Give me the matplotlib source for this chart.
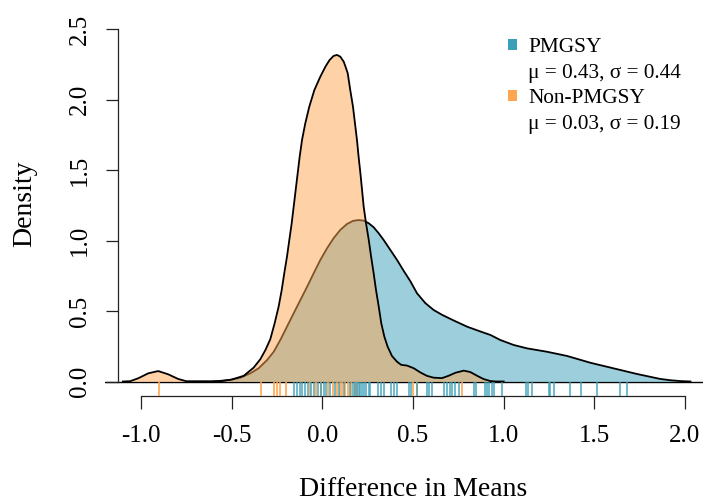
import matplotlib
matplotlib.use("Agg")
import matplotlib.pyplot as plt
from matplotlib.patches import Patch
import matplotlib.transforms as mtransforms

plt.rcParams['font.family'] = ['Liberation Serif', 'DejaVu Serif']

# ---- data ----
pm_x = [-0.60, -0.507, -0.452, -0.397, -0.351, -0.305, -0.268, -0.232, -0.195, -0.158,
        -0.121, -0.084, -0.048, -0.011, 0.026, 0.062, 0.099, 0.136, 0.169, 0.200,
        0.228, 0.256, 0.283, 0.311, 0.338, 0.375, 0.412, 0.448, 0.485, 0.522,
        0.568, 0.614, 0.660, 0.724, 0.798, 0.871, 0.927, 0.982, 1.055, 1.129,
        1.239, 1.350, 1.478, 1.607, 1.736, 1.864, 1.919, 1.975, 2.03]
pm_y = [0.0, 0.011, 0.027, 0.058, 0.094, 0.152, 0.211, 0.294, 0.389, 0.484,
        0.578, 0.672, 0.767, 0.862, 0.945, 1.016, 1.075, 1.117, 1.139, 1.145,
        1.141, 1.122, 1.094, 1.051, 1.004, 0.933, 0.862, 0.786, 0.712, 0.626,
        0.556, 0.507, 0.473, 0.433, 0.389, 0.355, 0.330, 0.294, 0.259, 0.235,
        0.211, 0.181, 0.133, 0.093, 0.053, 0.018, 0.009, 0.003, 0.0]

non_x = [-1.10, -1.06, -1.015, -0.96, -0.905, -0.85, -0.795, -0.75, -0.56, -0.50,
         -0.434, -0.379, -0.342, -0.314, -0.287, -0.263, -0.241, -0.224, -0.210, -0.195,
         -0.182, -0.169, -0.158, -0.147, -0.136, -0.125, -0.112, -0.094, -0.072, -0.044,
         -0.011, 0.017, 0.040, 0.062, 0.081, 0.099, 0.118, 0.131, 0.140, 0.154,
         0.169, 0.180, 0.191, 0.200, 0.210, 0.219, 0.228, 0.241, 0.256, 0.269,
         0.283, 0.296, 0.311, 0.325, 0.342, 0.360, 0.384, 0.412, 0.435, 0.467,
         0.504, 0.541, 0.577, 0.614, 0.660, 0.697, 0.734, 0.780, 0.816, 0.853,
         0.890, 0.927, 0.96, 1.0]
non_y = [0.0, 0.002, 0.023, 0.058, 0.074, 0.051, 0.018, 0.002, 0.002, 0.014,
         0.040, 0.098, 0.158, 0.223, 0.300, 0.413, 0.531, 0.649, 0.767, 0.885,
         1.004, 1.122, 1.240, 1.358, 1.476, 1.594, 1.713, 1.831, 1.949, 2.067,
         2.162, 2.233, 2.280, 2.309, 2.316, 2.304, 2.268, 2.221, 2.186, 2.067,
         1.949, 1.831, 1.713, 1.594, 1.476, 1.358, 1.240, 1.122, 1.004, 0.885,
         0.767, 0.649, 0.531, 0.413, 0.318, 0.247, 0.181, 0.140, 0.118, 0.113,
         0.094, 0.064, 0.040, 0.027, 0.024, 0.041, 0.062, 0.077, 0.067, 0.041,
         0.017, 0.003, 0.0, 0.0]

pm_rug = [-0.157, -0.142, -0.125, -0.11, -0.095, -0.08, -0.06, -0.045, -0.025, -0.01,
          0.01, 0.02, 0.045, 0.07, 0.09, 0.12, 0.15, 0.17, 0.18, 0.19, 0.20, 0.21,
          0.22, 0.23, 0.24, 0.255, 0.265, 0.308, 0.323, 0.34, 0.381, 0.397, 0.412,
          0.477, 0.487, 0.523, 0.576, 0.589, 0.606, 0.673, 0.688, 0.703, 0.715,
          0.733, 0.756, 0.835, 0.848, 0.899, 0.908, 0.917, 0.936, 0.949, 0.991,
          1.124, 1.133, 1.157, 1.248, 1.257, 1.279, 1.368, 1.428, 1.515, 1.640, 1.681]
non_rug = [-0.90, -0.34, -0.267, -0.248, -0.232, -0.20, -0.066, -0.035, -0.005,
           0.033, 0.06, 0.08, 0.096, 0.11, 0.127, 0.143, 0.16, 0.181, 0.191,
           0.50, 0.52, 0.772]

labels = ["PMGSY", "\u03bc = 0.43, \u03c3 = 0.44", "Non-PMGSY", "\u03bc = 0.03, \u03c3 = 0.19"]
xticks = [-1.0, -0.5, 0.0, 0.5, 1.0, 1.5, 2.0]
yticks = [0.0, 0.5, 1.0, 1.5, 2.0, 2.5]

blue = (59/255, 159/255, 185/255)
orange = (255/255, 165/255, 79/255)

# ---- figure ----
W, H = 703, 501
fig = plt.figure(figsize=(W/100, H/100), dpi=100)
L, R, T, B = 105, 703, 10, 396
ax = fig.add_axes([L/W, 1 - B/H, (R-L)/W, (B-T)/H])

ppu_x = 181.3
xmin = -1.0 - (141 - L)/ppu_x
xmax = 2.0 + (R - 685)/ppu_x
ppu_y = 141.0
y0 = 381.5
ymin = -(B - y0)/ppu_y
ymax = (y0 - T)/ppu_y
ax.set_xlim(xmin, xmax)
ax.set_ylim(ymin, ymax)

ax.axhline(0, color='black', lw=1.0, zorder=1)

ax.fill_between(pm_x, pm_y, 0, color=blue, alpha=0.5, lw=0, zorder=2)
ax.plot(pm_x, pm_y, color='black', lw=1.3, zorder=3, solid_joinstyle='round')
ax.fill_between(non_x, non_y, 0, color=orange, alpha=0.5, lw=0, zorder=4)
ax.plot(non_x, non_y, color='black', lw=1.3, zorder=5, solid_joinstyle='round')

trans = mtransforms.blended_transform_factory(ax.transData, ax.transAxes)
rug_h = 14 / (B - T)
ax.vlines(non_rug, 0, rug_h, transform=trans, color=orange, lw=1.2, alpha=1.0, zorder=6)
ax.vlines(pm_rug, 0, rug_h, transform=trans, color=blue, lw=1.2, alpha=0.85, zorder=7)

# axes styling (R-like)
for s in ['top', 'right']:
    ax.spines[s].set_visible(False)
ax.spines['left'].set_position(('data', -1.0 - (141 - 118.3)/ppu_x))
ax.spines['left'].set_bounds(0, 2.5)
ax.spines['bottom'].set_bounds(-1.0, 2.0)
for s in ['left', 'bottom']:
    ax.spines[s].set_color('#222222')
    ax.spines[s].set_linewidth(0.9)
ax.set_xticks(xticks)
ax.set_xticklabels([f"{v:.1f}" for v in xticks])
ax.set_yticks(yticks)
ax.set_yticklabels([f"{v:.1f}" for v in yticks], rotation=90, va='center')
ax.tick_params(axis='both', direction='out', length=9, width=0.9, color='#222222',
               labelsize=18)
ax.tick_params(axis='x', pad=12)
ax.tick_params(axis='y', pad=11)

ax.set_xlabel("Difference in Means", fontsize=20)
ax.set_ylabel("Density", fontsize=20)
ax.xaxis.set_label_coords((413 - L)/(R - L), -(490 - B)/(B - T), transform=ax.transAxes)
ax.yaxis.set_label_coords(-(L - 25)/(R - L), (B - 204)/(B - T), transform=ax.transAxes)
ax.xaxis.label.set_va('center')
ax.yaxis.label.set_va('center')

handles = [Patch(facecolor=blue, edgecolor='none'), Patch(facecolor='none', edgecolor='none'),
           Patch(facecolor=orange, edgecolor='none'), Patch(facecolor='none', edgecolor='none')]
leg = ax.legend(handles, labels, loc='upper left',
                bbox_to_anchor=(508/W, 1 - 38/H), bbox_transform=fig.transFigure,
                frameon=False, fontsize=15.3, handlelength=0.4, handleheight=0.4,
                handletextpad=0.55, labelspacing=0.31, borderpad=0, borderaxespad=0)

fig.savefig("out.png", dpi=100)
